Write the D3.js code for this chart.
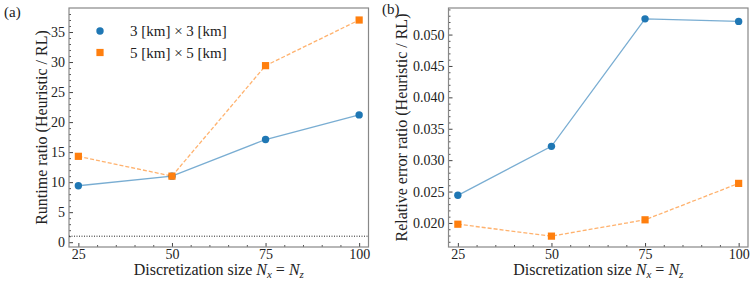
<!doctype html>
<html>
<head>
	<meta charset="UTF-8">
	<script src="https://cdn.jsdelivr.net/npm/d3@7"></script>
</head>
<body style="margin:0">
	<script>
		// data
		var sizes = [25, 50, 75, 100];
		var xTicks = [25, 50, 75, 100];
		var seriesNames = ["3 [km] \u00d7 3 [km]", "5 [km] \u00d7 5 [km]"];
		var runtime3 = [9.4, 11.0, 17.1, 21.2];
		var runtime5 = [14.3, 11.0, 29.4, 37.0];
		var error3 = [0.0244, 0.0322, 0.0525, 0.0521];
		var error5 = [0.0198, 0.0179, 0.0205, 0.0263];
		var runtimeTicks = [0, 5, 10, 15, 20, 25, 30, 35];
		var errorTicks = [0.020, 0.025, 0.030, 0.035, 0.040, 0.045, 0.050];
		var refLine = 1;

		var W = 753, H = 283;
		var blue = "#1f77b4", orange = "#ff7f0e";
		var fontName = "'Liberation Serif'";

		var svg = d3.select("body").append("svg")
			.attr("width", W)
			.attr("height", H)
			.style("font-family", fontName);

		function txt(sel, size) {
			return sel.style("font-family", fontName).attr("font-size", size).attr("fill", "#222");
		}

		function panel(opt) {
			var x = d3.scaleLinear().domain([22.5, 102.5]).range([opt.left, opt.right]);
			var y = d3.scaleLinear().domain(opt.ydom).range([opt.bottom, opt.top]);
			var g = svg.append("g");

			// minor ticks
			var xMinor = d3.range(25, 101, 5).filter(function(v) { return xTicks.indexOf(v) < 0; });
			g.append("g")
				.attr("transform", "translate(0," + opt.bottom + ")")
				.call(d3.axisBottom(x).tickValues(xMinor).tickSize(-2).tickFormat(""))
				.call(function(s) { s.select(".domain").remove(); s.selectAll("line").attr("stroke", "#555"); });
			g.append("g")
				.attr("transform", "translate(" + opt.left + ",0)")
				.call(d3.axisLeft(y).tickValues(opt.yMinor).tickSize(-2).tickFormat(""))
				.call(function(s) { s.select(".domain").remove(); s.selectAll("line").attr("stroke", "#555"); });

			// major ticks
			var xa = g.append("g")
				.attr("transform", "translate(0," + opt.bottom + ")")
				.call(d3.axisBottom(x).tickValues(xTicks).tickSize(-4).tickPadding(2).tickFormat(d3.format("d")));
			xa.attr("font-family", null).attr("font-size", null);
			xa.select(".domain").remove();
			xa.selectAll("line").attr("stroke", "#444");
			txt(xa.selectAll("text"), 14);

			var ya = g.append("g")
				.attr("transform", "translate(" + opt.left + ",0)")
				.call(d3.axisLeft(y).tickValues(opt.yTicks).tickSize(-4).tickPadding(4).tickFormat(opt.yFormat));
			ya.attr("font-family", null).attr("font-size", null);
			ya.select(".domain").remove();
			ya.selectAll("line").attr("stroke", "#444");
			txt(ya.selectAll("text"), 14);

			// frame
			g.append("rect")
				.attr("x", opt.left).attr("y", opt.top)
				.attr("width", opt.right - opt.left).attr("height", opt.bottom - opt.top)
				.attr("fill", "none").attr("stroke", "#888").attr("stroke-width", 1.2);

			if (opt.ref != null) {
				g.append("line")
					.attr("x1", opt.left).attr("x2", opt.right)
					.attr("y1", y(opt.ref)).attr("y2", y(opt.ref))
					.attr("stroke", "#222").attr("stroke-width", 1).attr("stroke-dasharray", "1,1.5");
			}

			var line = d3.line().x(function(d, i) { return x(sizes[i]); }).y(function(d) { return y(d); });

			g.append("path").datum(opt.s3).attr("d", line)
				.attr("fill", "none").attr("stroke", blue).attr("stroke-opacity", 0.6).attr("stroke-width", 1.3);
			g.append("path").datum(opt.s5).attr("d", line)
				.attr("fill", "none").attr("stroke", orange).attr("stroke-opacity", 0.6).attr("stroke-width", 1.3)
				.attr("stroke-dasharray", "4,2");

			g.selectAll("circle.pt").data(opt.s3).enter().append("circle")
				.attr("class", "pt")
				.attr("cx", function(d, i) { return x(sizes[i]); })
				.attr("cy", function(d) { return y(d); })
				.attr("r", 3.7).attr("fill", blue);
			g.selectAll("rect.pt").data(opt.s5).enter().append("rect")
				.attr("class", "pt")
				.attr("x", function(d, i) { return x(sizes[i]) - 3.6; })
				.attr("y", function(d) { return y(d) - 3.6; })
				.attr("width", 7.2).attr("height", 7.2).attr("fill", orange);

			// axis labels
			var xl = txt(g.append("text"), 16)
				.attr("x", (opt.left + opt.right) / 2).attr("y", 275)
				.attr("text-anchor", "middle");
			xl.append("tspan").text("Discretization size ");
			xl.append("tspan").attr("font-style", "italic").text("N");
			xl.append("tspan").attr("font-style", "italic").attr("font-size", 11).attr("dy", 3).text("x");
			xl.append("tspan").attr("dy", -3).text(" = ");
			xl.append("tspan").attr("font-style", "italic").text("N");
			xl.append("tspan").attr("font-style", "italic").attr("font-size", 11).attr("dy", 3).text("z");

			txt(g.append("text"), 16)
				.attr("transform", "translate(" + opt.ylabelX + "," + (opt.top + opt.bottom) / 2 + ") rotate(-90)")
				.attr("text-anchor", "middle")
				.text(opt.ylabel);

			txt(g.append("text"), 15)
				.attr("x", opt.tagX).attr("y", opt.tagY)
				.text(opt.tag);

			return { x: x, y: y, g: g };
		}

		var a = panel({
			left: 69, right: 368.5, top: 8, bottom: 247,
			ydom: [-0.8, 39], yTicks: runtimeTicks, yMinor: d3.range(0, 39, 1).filter(function(v) { return v % 5 !== 0; }),
			yFormat: d3.format("d"),
			s3: runtime3, s5: runtime5, ref: refLine,
			ylabel: "Runtime ratio (Heuristic / RL)", ylabelX: 47,
			tag: "(a)", tagX: 4, tagY: 17
		});

		panel({
			left: 448.5, right: 748, top: 8, bottom: 247,
			ydom: [0.01617, 0.05423], yTicks: errorTicks,
			yMinor: d3.range(17, 55, 1).filter(function(v) { return v % 5 !== 0; }).map(function(v) { return v / 1000; }),
			yFormat: d3.format(".3f"),
			s3: error3, s5: error5, ref: null,
			ylabel: "Relative error ratio (Heuristic / RL)", ylabelX: 407,
			tag: "(b)", tagX: 382, tagY: 14
		});

		// legend in panel (a)
		var leg = a.g.append("g");
		seriesNames.forEach(function(name, i) {
			var ly = 31 + i * 21.5;
			if (i === 0) {
				leg.append("circle").attr("cx", 100).attr("cy", ly).attr("r", 3.7).attr("fill", blue);
			} else {
				leg.append("rect").attr("x", 96.4).attr("y", ly - 3.6).attr("width", 7.2).attr("height", 7.2).attr("fill", orange);
			}
			txt(leg.append("text"), 15).attr("x", 130).attr("y", ly + 5).text(name);
		});
	</script>
</body>
</html>
